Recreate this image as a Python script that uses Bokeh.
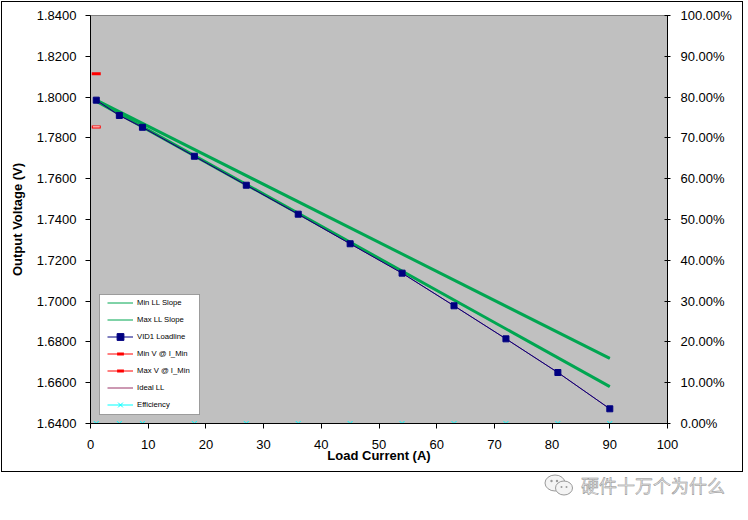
import math
from bokeh.plotting import figure
from bokeh.layouts import column
from bokeh.models import (Range1d, LinearAxis, FixedTicker, NumeralTickFormatter,
                          Legend, LegendItem, BoxAnnotation, Div)
from bokeh.embed import file_html
from bokeh.resources import INLINE

# ---- data ----
current = [1, 5, 9, 18, 27, 36, 45, 54, 63, 72, 81, 90]
vid1_loadline = [1.7985, 1.7910, 1.7852, 1.7710, 1.7568, 1.7426,
                 1.7281, 1.7137, 1.6977, 1.6815, 1.6650, 1.6472]
ideal_ll = [1.7985, 1.7910, 1.7852, 1.7710, 1.7568, 1.7426,
            1.7281, 1.7137, 1.6977, 1.6815, 1.6650, 1.6472]
efficiency = [0.0, 0.0, 0.0, 0.0, 0.0, 0.0, 0.0, 0.0, 0.0, 0.0, 0.0, 0.0]
slope_current = [1, 90]
min_ll_slope = [1.7985, 1.6719]
max_ll_slope = [1.7980, 1.6581]
i_min = [1]
min_v_at_i_min = [1.7854]
max_v_at_i_min = [1.8114]

x_ticks = [0, 10, 20, 30, 40, 50, 60, 70, 80, 90, 100]
y_ticks = [1.64, 1.66, 1.68, 1.70, 1.72, 1.74, 1.76, 1.78, 1.80, 1.82, 1.84]
eff_ticks = [0.0, 0.1, 0.2, 0.3, 0.4, 0.5, 0.6, 0.7, 0.8, 0.9, 1.0]

x_title = "Load Current (A)"
y_title = "Output Voltage (V)"
watermark = "硬件十万个为什么"

GREEN = "#00A651"
NAVY = "#000080"
RED = "#FF0000"
PURPLE = "#993366"
CYAN = "#00FFFF"
FONT = "Liberation Sans"

p = figure(width=740, height=469,
           x_range=Range1d(0, 100), y_range=Range1d(1.64, 1.84),
           output_backend="svg", toolbar_location=None,
           min_border_left=88, min_border_right=75,
           min_border_top=13, min_border_bottom=48)
p.styles = {"margin-left": "2px", "margin-top": "2px",
            "outline": "1px solid black", "outline-offset": "0px"}
p.background_fill_color = "#C0C0C0"
p.border_fill_color = "white"
p.outline_line_color = "#808080"
p.grid.visible = False

p.extra_y_ranges = {"eff": Range1d(0, 1)}
right_axis = LinearAxis(y_range_name="eff")
p.add_layout(right_axis, "right")

p.xaxis.ticker = FixedTicker(ticks=x_ticks)
p.yaxis[0].ticker = FixedTicker(ticks=y_ticks)
p.yaxis[0].formatter = NumeralTickFormatter(format="0.0000")
right_axis.ticker = FixedTicker(ticks=eff_ticks)
right_axis.formatter = NumeralTickFormatter(format="0.00%")

for ax in [p.xaxis[0], p.yaxis[0], right_axis]:
    ax.axis_line_color = "black"
    ax.major_tick_line_color = "black"
    ax.minor_tick_line_color = None
    ax.major_label_text_font = FONT
    ax.major_label_text_font_size = "13px"
    ax.major_label_text_color = "black"
    ax.axis_label_text_font = FONT
    ax.axis_label_text_font_size = "13px"
    ax.axis_label_text_font_style = "bold"
    ax.axis_label_text_color = "black"
p.xaxis[0].major_tick_in = 0
p.xaxis[0].major_tick_out = 5
p.xaxis[0].major_label_standoff = 11
p.xaxis[0].axis_label = x_title
p.xaxis[0].axis_label_standoff = -4
p.yaxis[0].major_tick_in = 0
p.yaxis[0].major_tick_out = 5
p.yaxis[0].major_label_standoff = 9
p.yaxis[0].axis_label = y_title
p.yaxis[0].axis_label_standoff = 9
right_axis.major_tick_in = 3
right_axis.major_tick_out = 3
right_axis.major_label_standoff = 10

# ---- series ----
# thin copies (hidden under the thick lines) give the legend its 1px swatches
r_min_leg = p.line(slope_current, min_ll_slope, line_color=GREEN, line_width=1)
r_max_leg = p.line(slope_current, max_ll_slope, line_color=GREEN, line_width=1)
p.line(slope_current, min_ll_slope, line_color=GREEN, line_width=3)
p.line(slope_current, max_ll_slope, line_color=GREEN, line_width=3)
r_ideal = p.line(current, ideal_ll, line_color=PURPLE, line_width=1)
r_vid_l = p.line(current, vid1_loadline, line_color=NAVY, line_width=1)
r_vid_s = p.scatter(current, vid1_loadline, marker="square", size=6,
                    fill_color=NAVY, line_color=NAVY)
r_minv_l = p.line(i_min, min_v_at_i_min, line_color=RED, line_width=1)
r_minv = p.scatter(i_min, min_v_at_i_min, marker="dash", size=9,
                   line_color=RED, line_width=3)
p.scatter(i_min, min_v_at_i_min, marker="dash", size=7,
          line_color="white", line_width=1)
r_maxv_l = p.line(i_min, max_v_at_i_min, line_color=RED, line_width=1)
r_maxv = p.scatter(i_min, max_v_at_i_min, marker="dash", size=9,
                   line_color=RED, line_width=3)
r_eff_l = p.line(current, efficiency, y_range_name="eff", line_color=CYAN, line_width=1)
r_eff = p.scatter(current, efficiency, y_range_name="eff", marker="x", size=7,
                  line_color=CYAN, line_width=1)

# ---- legend ----
legend_box = BoxAnnotation(left=9, right=109, bottom=9, top=129,
                           left_units="screen", right_units="screen",
                           bottom_units="screen", top_units="screen",
                           fill_color="white", fill_alpha=1,
                           line_color="black", line_width=1)
p.add_layout(legend_box, "center")

legend = Legend(items=[
    LegendItem(label="Min LL Slope", renderers=[r_min_leg]),
    LegendItem(label="Max LL Slope", renderers=[r_max_leg]),
    LegendItem(label="VID1 Loadline", renderers=[r_vid_l, r_vid_s]),
    LegendItem(label="Min V @ I_Min", renderers=[r_minv_l, r_minv]),
    LegendItem(label="Max V @ I_Min", renderers=[r_maxv_l, r_maxv]),
    LegendItem(label="Ideal LL", renderers=[r_ideal]),
    LegendItem(label="Efficiency", renderers=[r_eff_l, r_eff]),
], location=(17, 10), orientation="vertical", padding=0, margin=0, spacing=0,
    glyph_width=26, glyph_height=17, label_height=17, label_standoff=4,
    label_text_font=FONT, label_text_font_size="7.7px", label_text_color="black",
    border_line_color=None, background_fill_alpha=0)
p.add_layout(legend, "center")

# ---- watermark strip below the chart ----
icon = ('<svg width="30" height="22" viewBox="0 0 30 22" '
        'style="vertical-align: middle; margin-right: 7px;">'
        '<ellipse cx="11" cy="9" rx="10" ry="8" fill="#f4f4f4" stroke="#9a9a9a" stroke-width="1"/>'
        '<ellipse cx="20" cy="14" rx="8.5" ry="7" fill="#f4f4f4" stroke="#9a9a9a" stroke-width="1"/>'
        '<circle cx="7.5" cy="7" r="1.2" fill="#9a9a9a"/>'
        '<circle cx="13" cy="7" r="1.2" fill="#9a9a9a"/>'
        '<circle cx="17.5" cy="13" r="1" fill="#9a9a9a"/>'
        '<circle cx="22.5" cy="13" r="1" fill="#9a9a9a"/>'
        '</svg>')
wm = Div(text=('<div style="font-family: \'Noto Sans CJK SC\'; font-size: 18px; '
               'line-height: 22px; white-space: nowrap;">' + icon +
               '<span style="vertical-align: middle; color: #e2e2e2; '
               '-webkit-text-stroke: 0.45px #8a8a8a;">' + watermark + '</span></div>'),
         width=740, height=36,
         styles={"margin-left": "2px", "margin-top": "-2px", "padding-left": "542px",
                 "padding-top": "2px", "box-sizing": "border-box"})

layout = column(p, wm)
open("out.html", "w").write(file_html(layout, INLINE))
